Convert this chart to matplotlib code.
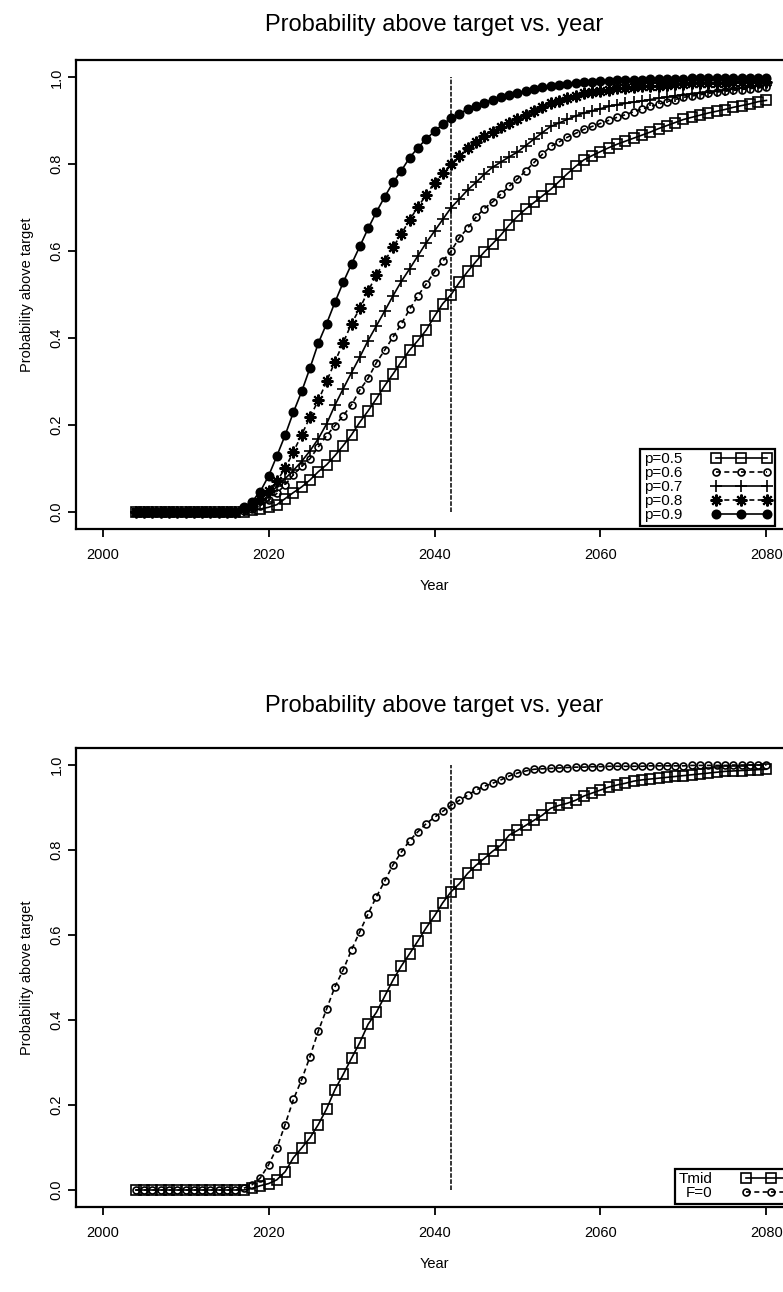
import matplotlib
matplotlib.use("Agg")
import matplotlib.pyplot as plt

# years simulated
years = list(range(2004, 2081))
target_year = 2042

# probability above target, top panel (one series per p)
p05 = [0.0, 0.0, 0.0, 0.0, 0.0, 0.0, 0.0, 0.0, 0.0, 0.0, 0.0, 0.0, 0.0,
       0.0, 0.003, 0.006, 0.01, 0.016, 0.03, 0.044, 0.057, 0.073, 0.092, 0.108, 0.129,
       0.152, 0.177, 0.206, 0.232, 0.26, 0.29, 0.317, 0.345, 0.372, 0.394, 0.418, 0.45,
       0.479, 0.5, 0.528, 0.553, 0.576, 0.598, 0.617, 0.637, 0.66, 0.68, 0.697, 0.712,
       0.727, 0.742, 0.76, 0.778, 0.795, 0.81, 0.82, 0.829, 0.838, 0.846, 0.853, 0.86,
       0.867, 0.874, 0.882, 0.889, 0.896, 0.903, 0.908, 0.913, 0.918, 0.922, 0.926,
       0.931, 0.935, 0.939, 0.944, 0.947]
p06 = [0.0, 0.0, 0.0, 0.0, 0.0, 0.0, 0.0, 0.0, 0.0, 0.0, 0.0, 0.0, 0.0,
       0.002, 0.006, 0.014, 0.026, 0.042, 0.062, 0.085, 0.104, 0.122, 0.149, 0.175, 0.198,
       0.221, 0.246, 0.28, 0.307, 0.343, 0.372, 0.402, 0.432, 0.466, 0.497, 0.524, 0.552,
       0.577, 0.6, 0.631, 0.653, 0.678, 0.698, 0.713, 0.731, 0.749, 0.766, 0.785, 0.804,
       0.823, 0.841, 0.851, 0.862, 0.871, 0.88, 0.887, 0.894, 0.901, 0.908, 0.914, 0.921,
       0.927, 0.933, 0.938, 0.944, 0.949, 0.954, 0.957, 0.96, 0.963, 0.966, 0.968,
       0.97, 0.972, 0.974, 0.976, 0.977]
p07 = [0.0, 0.0, 0.0, 0.0, 0.0, 0.0, 0.0, 0.0, 0.0, 0.0, 0.0, 0.0, 0.0,
       0.003, 0.01, 0.021, 0.038, 0.058, 0.076, 0.095, 0.116, 0.14, 0.168, 0.202, 0.245,
       0.283, 0.32, 0.356, 0.394, 0.428, 0.462, 0.497, 0.53, 0.559, 0.589, 0.619, 0.646,
       0.673, 0.7, 0.72, 0.741, 0.758, 0.777, 0.793, 0.805, 0.817, 0.828, 0.843, 0.858,
       0.873, 0.887, 0.895, 0.903, 0.911, 0.918, 0.923, 0.928, 0.933, 0.937, 0.94, 0.943,
       0.946, 0.949, 0.952, 0.955, 0.958, 0.96, 0.962, 0.964, 0.966, 0.968, 0.97,
       0.973, 0.976, 0.978, 0.98, 0.982]
p08 = [0.0, 0.0, 0.0, 0.0, 0.0, 0.0, 0.0, 0.0, 0.0, 0.0, 0.0, 0.0, 0.0,
       0.005, 0.014, 0.029, 0.048, 0.07, 0.1, 0.138, 0.177, 0.218, 0.256, 0.3, 0.345,
       0.389, 0.433, 0.468, 0.508, 0.545, 0.577, 0.609, 0.639, 0.672, 0.701, 0.73, 0.757,
       0.779, 0.8, 0.82, 0.838, 0.852, 0.864, 0.875, 0.885, 0.894, 0.903, 0.913, 0.922,
       0.931, 0.94, 0.946, 0.952, 0.958, 0.963, 0.966, 0.969, 0.972, 0.975, 0.976, 0.977,
       0.979, 0.98, 0.981, 0.982, 0.984, 0.985, 0.986, 0.987, 0.987, 0.988, 0.988,
       0.989, 0.989, 0.99, 0.99, 0.99]
p09 = [0.0, 0.0, 0.0, 0.0, 0.0, 0.0, 0.0, 0.0, 0.0, 0.0, 0.0, 0.0, 0.0,
       0.01, 0.023, 0.046, 0.082, 0.128, 0.176, 0.229, 0.277, 0.331, 0.388, 0.433, 0.482,
       0.528, 0.57, 0.611, 0.652, 0.69, 0.725, 0.758, 0.785, 0.815, 0.838, 0.858, 0.876,
       0.892, 0.906, 0.916, 0.927, 0.935, 0.942, 0.949, 0.955, 0.96, 0.964, 0.969, 0.973,
       0.977, 0.98, 0.983, 0.985, 0.987, 0.989, 0.99, 0.991, 0.992, 0.993, 0.994, 0.995,
       0.995, 0.996, 0.996, 0.997, 0.997, 0.997, 0.998, 0.998, 0.998, 0.998, 0.999,
       0.999, 0.999, 0.999, 0.999, 0.999]
top_labels = ["p=0.5", "p=0.6", "p=0.7", "p=0.8", "p=0.9"]

# bottom panel
tmid = [0.0, 0.0, 0.0, 0.0, 0.0, 0.0, 0.0, 0.0, 0.0, 0.0, 0.0, 0.0, 0.0,
        0.0, 0.004, 0.01, 0.015, 0.024, 0.043, 0.076, 0.099, 0.123, 0.154, 0.191, 0.236,
        0.272, 0.31, 0.347, 0.39, 0.418, 0.456, 0.494, 0.527, 0.556, 0.586, 0.617, 0.645,
        0.676, 0.702, 0.721, 0.745, 0.764, 0.78, 0.797, 0.811, 0.835, 0.846, 0.858, 0.87,
        0.882, 0.898, 0.905, 0.91, 0.917, 0.927, 0.934, 0.941, 0.948, 0.953, 0.957, 0.962,
        0.965, 0.967, 0.969, 0.971, 0.973, 0.975, 0.977, 0.979, 0.981, 0.983, 0.985,
        0.986, 0.987, 0.988, 0.989, 0.99]
f0 = [0.0, 0.0, 0.0, 0.0, 0.0, 0.0, 0.0, 0.0, 0.0, 0.0, 0.0, 0.0, 0.0,
      0.004, 0.012, 0.028, 0.059, 0.099, 0.154, 0.213, 0.26, 0.314, 0.374, 0.426, 0.478,
      0.518, 0.565, 0.608, 0.65, 0.69, 0.727, 0.765, 0.795, 0.822, 0.843, 0.862, 0.877,
      0.891, 0.905, 0.917, 0.929, 0.941, 0.95, 0.957, 0.965, 0.974, 0.981, 0.986, 0.99,
      0.991, 0.992, 0.993, 0.994, 0.995, 0.995, 0.996, 0.996, 0.997, 0.997, 0.997, 0.997,
      0.997, 0.998, 0.998, 0.998, 0.998, 0.998, 0.999, 0.999, 0.999, 0.999, 0.999,
      1.0, 1.0, 1.0, 1.0, 1.0]
bottom_labels = ["Tmid", "F=0"]

plt.rcParams['font.family'] = ['Liberation Sans', 'DejaVu Sans']

dash = (0, (3, 2))
top_styles = [
    dict(marker='s', ls='-', ms=6.5, mfc='none'),
    dict(marker='o', ls=dash, ms=5, mfc='none'),
    dict(marker='+', ls='-', ms=8),
    dict(marker=(8, 2, 0), ls=dash, ms=8.5, mew=1.5),
    dict(marker='o', ls='-', ms=6),
]
bottom_styles = [
    dict(marker='s', ls='-', ms=6.5, mfc='none'),
    dict(marker='o', ls=dash, ms=5, mfc='none'),
]


def style_axes(ax, title_pad):
    ax.set_xlim(1996.8, 2083.2)
    ax.set_ylim(-0.04, 1.04)
    ax.set_xticks([2000, 2020, 2040, 2060, 2080])
    ax.set_yticks([0.0, 0.2, 0.4, 0.6, 0.8, 1.0])
    ax.set_yticklabels(["0.0", "0.2", "0.4", "0.6", "0.8", "1.0"],
                       rotation=90, va='center')
    ax.tick_params(axis='x', direction='out', length=6, width=1.3,
                   labelsize=10.5, pad=8)
    ax.tick_params(axis='y', direction='out', length=6, width=1.3,
                   labelsize=10.5, pad=3)
    for s in ax.spines.values():
        s.set_linewidth(1.6)
    ax.set_title("Probability above target vs. year", fontsize=17, pad=title_pad)
    ax.set_xlabel("Year", fontsize=10.5, labelpad=12)
    ax.set_ylabel("Probability above target", fontsize=10.5, labelpad=11)
    ax.vlines(target_year, 0, 1, colors='black', linestyles=(0, (3, 1)), lw=1.1)


def draw_panel(ax, series, labels, styles, leg_x, title_pad):
    for vals, lab, st in zip(series, labels, styles):
        kw = dict(color='black', lw=1.2, mew=1.2, label=lab)
        kw.update(st)
        ax.plot(years, vals, **kw)
    style_axes(ax, title_pad)
    leg = ax.legend(loc='lower left', bbox_to_anchor=(leg_x, 0.006),
                    markerfirst=False, numpoints=3, handlelength=3.9,
                    handletextpad=1.9, labelspacing=0.0, borderpad=0.25,
                    borderaxespad=0, fontsize=11, frameon=True, fancybox=False,
                    edgecolor='black', framealpha=1)
    leg.get_frame().set_linewidth(1.6)


fig = plt.figure(figsize=(7.83, 12.92), dpi=100)
ax1 = fig.add_axes([76 / 783, (1292 - 529) / 1292, 717 / 783, 469 / 1292])
ax2 = fig.add_axes([76 / 783, (1292 - 1207) / 1292, 717 / 783, 459 / 1292])

draw_panel(ax1, [p05, p06, p07, p08, p09], top_labels, top_styles, 0.787, 21)
draw_panel(ax2, [tmid, f0], bottom_labels, bottom_styles, 0.835, 26)

fig.savefig("out.png", dpi=100)
